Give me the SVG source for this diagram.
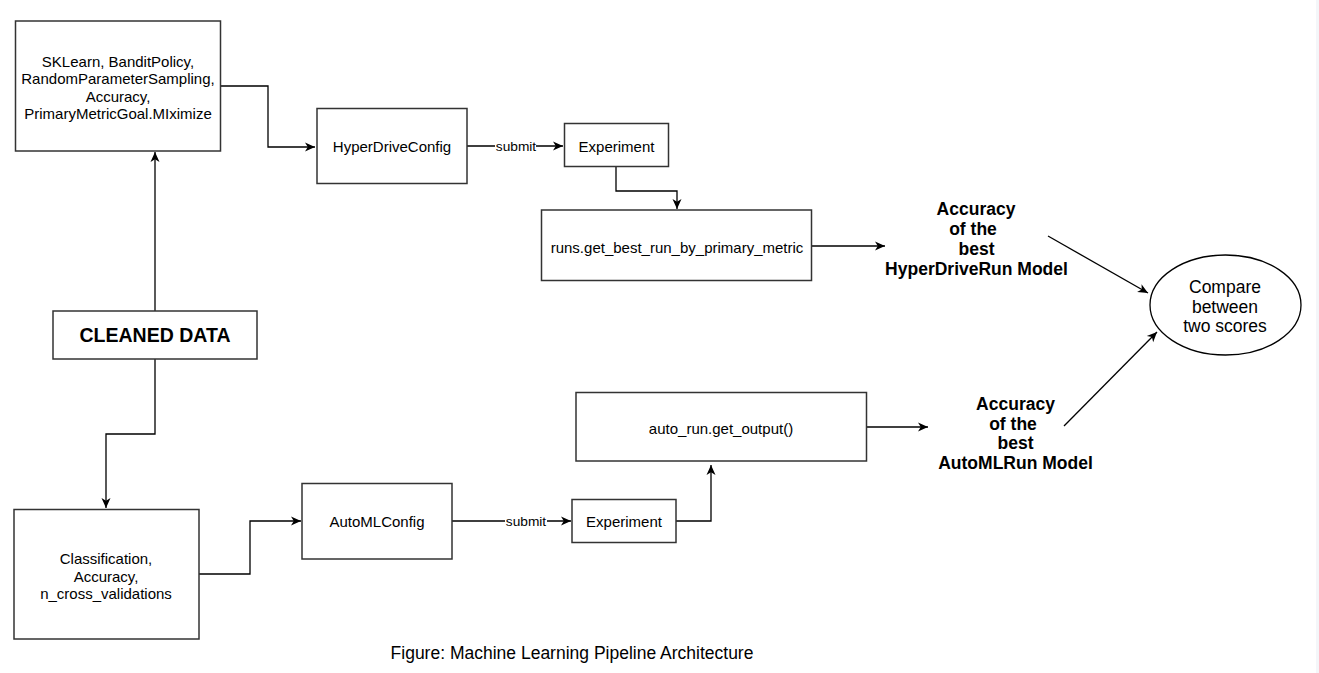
<svg xmlns="http://www.w3.org/2000/svg" width="1319" height="673" viewBox="0 0 1319 673">
<defs>
<marker id="arr" markerUnits="userSpaceOnUse" markerWidth="12" markerHeight="10" refX="10" refY="5" orient="auto">
<path d="M0,0.5 L10,5 L0,9.5 L2.8,5 z" fill="#000"/>
</marker>
<style>
.box{fill:#fff;stroke:#333;stroke-width:1.5}
.t{font-family:"Liberation Sans",Arial,sans-serif;font-size:15px;fill:#000;text-anchor:middle;dominant-baseline:central}
.b{font-family:"Liberation Sans",Arial,sans-serif;font-size:17.5px;font-weight:bold;fill:#000;text-anchor:middle;dominant-baseline:central}
.l{font-family:"Liberation Sans",Arial,sans-serif;font-size:13.7px;fill:#000;text-anchor:middle;dominant-baseline:central}
.c{fill:none;stroke:#000;stroke-width:1.3}
</style>
</defs>
<rect x="0" y="0" width="1319" height="673" fill="#fff"/>
<rect x="1316" y="0" width="3" height="673" fill="#f4f6f9"/>

<g id="connectors">
<path class="c" d="M221,86 H268 V147 H315" marker-end="url(#arr)"/>
<path class="c" d="M467,146 H495 M536,146 H563" marker-end="url(#arr)"/>
<path class="c" d="M616,166 V191 H677 V209" marker-end="url(#arr)"/>
<path class="c" d="M812,246 H885" marker-end="url(#arr)"/>
<path class="c" d="M1048,236 L1148,293" marker-end="url(#arr)"/>
<path class="c" d="M1064,426 L1157,332" marker-end="url(#arr)"/>
<path class="c" d="M155,311 V152" marker-end="url(#arr)"/>
<path class="c" d="M155,359 V434 H106 V508" marker-end="url(#arr)"/>
<path class="c" d="M199,574 H250 V521 H301" marker-end="url(#arr)"/>
<path class="c" d="M452,521 H505 M547,521 H571" marker-end="url(#arr)"/>
<path class="c" d="M676,521 H711 V465" marker-end="url(#arr)"/>
<path class="c" d="M867,427 H928" marker-end="url(#arr)"/>
<text class="l" x="516" y="146">submit</text>
<text class="l" x="526" y="521">submit</text>
</g>

<g id="hd-params">
<rect class="box" x="15.5" y="21" width="205" height="130"/>
<text class="t" x="118" y="61">SKLearn, BanditPolicy,</text>
<text class="t" x="118" y="78.5">RandomParameterSampling,</text>
<text class="t" x="118" y="96">Accuracy,</text>
<text class="t" x="118" y="113.5">PrimaryMetricGoal.MIximize</text>
</g>

<g id="hyperdriveconfig">
<rect class="box" x="317" y="108.5" width="150" height="75"/>
<text class="t" x="392" y="146.5">HyperDriveConfig</text>
</g>

<g id="experiment1">
<rect class="box" x="564.5" y="123.5" width="104" height="43"/>
<text class="t" x="616.5" y="146">Experiment</text>
</g>

<g id="best-run">
<rect class="box" x="541.5" y="210" width="270" height="70.5"/>
<text class="t" x="677" y="247">runs.get_best_run_by_primary_metric</text>
</g>

<g id="acc-hd">
<text class="b" x="976" y="208.5">Accuracy</text>
<text class="b" x="973" y="228.5">of the</text>
<text class="b" x="976.5" y="248.5">best</text>
<text class="b" x="976.5" y="268.5">HyperDriveRun Model</text>
</g>

<g id="compare">
<ellipse cx="1225.5" cy="305" rx="75.5" ry="50" fill="#fff" stroke="#000" stroke-width="1.3"/>
<text class="b" style="font-weight:normal" x="1225" y="286.5">Compare</text>
<text class="b" style="font-weight:normal" x="1225" y="306.5">between</text>
<text class="b" style="font-weight:normal" x="1225" y="326">two scores</text>
</g>

<g id="cleaned-data">
<rect class="box" x="53" y="311" width="204" height="48"/>
<text class="b" style="font-size:19.5px" x="155" y="334.5">CLEANED DATA</text>
</g>

<g id="aml-params">
<rect class="box" x="14" y="509.5" width="185" height="129.5"/>
<text class="t" x="106" y="558.5">Classification,</text>
<text class="t" x="106" y="576">Accuracy,</text>
<text class="t" x="106" y="593.5">n_cross_validations</text>
</g>

<g id="automlconfig">
<rect class="box" x="302" y="483.5" width="150" height="75.5"/>
<text class="t" x="377" y="521.5">AutoMLConfig</text>
</g>

<g id="experiment2">
<rect class="box" x="572" y="499.5" width="104" height="43"/>
<text class="t" x="624" y="521.5">Experiment</text>
</g>

<g id="auto-output">
<rect class="box" x="576" y="392.5" width="290.5" height="68.5"/>
<text class="t" x="721" y="428">auto_run.get_output()</text>
</g>

<g id="acc-aml">
<text class="b" x="1015.5" y="403.5">Accuracy</text>
<text class="b" x="1013" y="423.5">of the</text>
<text class="b" x="1015.5" y="443">best</text>
<text class="b" x="1015.5" y="463">AutoMLRun Model</text>
</g>

<text class="b" style="font-weight:normal;font-size:17.5px" x="572" y="653">Figure: Machine Learning Pipeline Architecture</text>
</svg>
